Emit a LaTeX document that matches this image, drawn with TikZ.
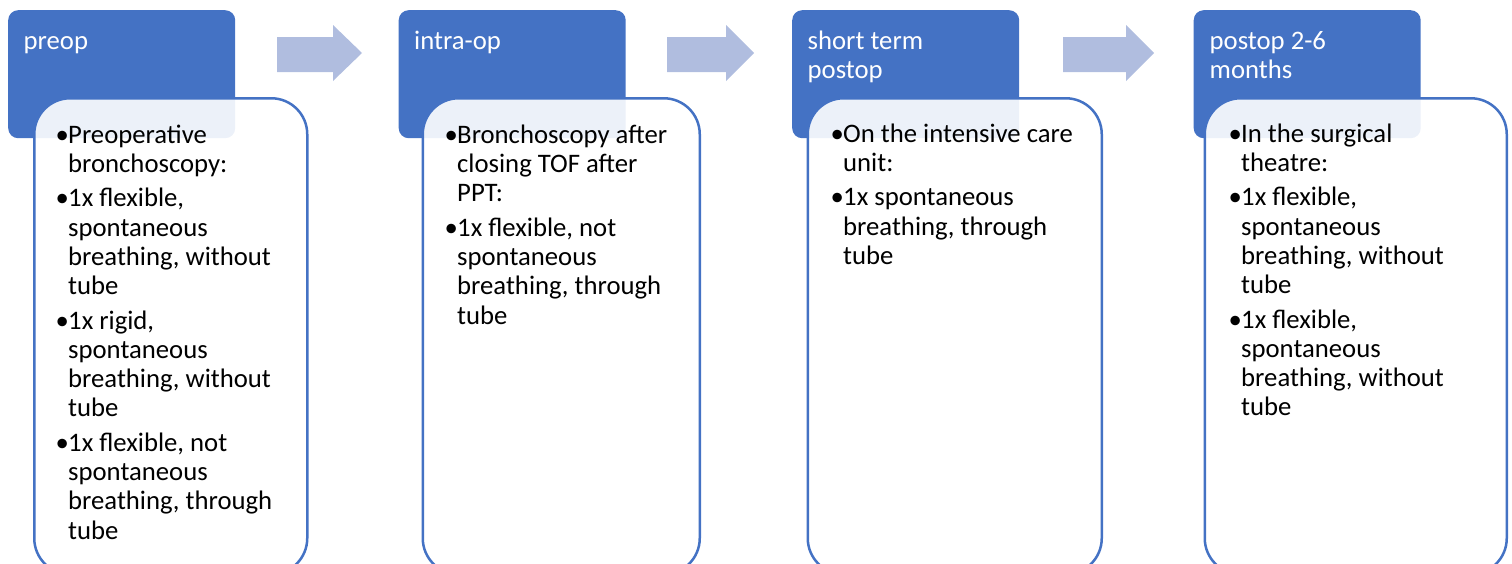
\documentclass[tikz,border=0pt]{standalone}
\usepackage{fontspec}
\setmainfont{Carlito}
\definecolor{acc}{HTML}{4472C4}
\definecolor{arr}{RGB}{176,189,223}
\newcommand{\mybul}{\makebox[12.5pt][l]{\textbullet}}
\newcommand{\myind}{\hspace*{12.5pt}}
\newcommand{\mystrut}{\rule{0pt}{21pt}}
\begin{document}
\begin{tikzpicture}[x=1pt,y=-1pt,
  hdr/.style={fill=acc, draw=none, rounded corners=10pt, minimum width=227pt, minimum height=128pt, anchor=north west, inner sep=0pt},
  bodybox/.style={draw=acc, line width=2.5pt, fill=white, fill opacity=0.9, draw opacity=1, rounded corners=36pt, anchor=north west, inner sep=0pt, minimum height=476pt},
  htext/.style={text=white, font=\fontsize{26.7}{29}\selectfont, align=left, anchor=north west, inner sep=0pt},
  btext/.style={text=black, font=\fontsize{26.7}{29.3}\selectfont, align=left, anchor=north west, inner sep=0pt},
  blockarrow/.style={fill=arr, draw=none}
]
\useasboundingbox (0,0) rectangle (1512,563);
\clip (0,0) rectangle (1512,563);

% headers
\node[hdr] (h1) at (8,10) {};
\node[hdr] (h2) at (398.5,10) {};
\node[hdr] (h3) at (792,10) {};
\node[hdr] (h4) at (1193.5,10) {};

\node[htext] (ht1) at (23.5,28.5) {\mystrut preop};
\node[htext] (ht2) at (414,28.5) {\mystrut intra-op};
\node[htext] (ht3) at (807.5,28.5) {\mystrut short term\\postop};
\node[htext] (ht4) at (1209.5,28.5) {\mystrut postop 2-6\\months};

% arrows
\fill[blockarrow] (277,37) -- (333,37) -- (333,25) -- (362,53) -- (333,81) -- (333,72) -- (277,72) -- cycle;
\fill[blockarrow] (667,37) -- (726,37) -- (726,25) -- (754,53) -- (726,81) -- (726,72) -- (667,72) -- cycle;
\fill[blockarrow] (1063,37) -- (1126,37) -- (1126,25) -- (1154,53) -- (1126,81) -- (1126,72) -- (1063,72) -- cycle;

% bodies
\node[bodybox, minimum width=273pt] (b1) at (33,97) {};
\node[bodybox, minimum width=277pt] (b2) at (421.5,97) {};
\node[bodybox, minimum width=294pt] (b3) at (806.5,97) {};
\node[bodybox, minimum width=302pt] (b4) at (1203.5,97) {};

\node[btext] (bt1) at (55.5,122) {\mystrut\mybul Preoperative\\
\myind bronchoscopy:\\[5pt]
\mybul 1x flexible,\\
\myind spontaneous\\
\myind breathing, without\\
\myind tube\\[5pt]
\mybul 1x rigid,\\
\myind spontaneous\\
\myind breathing, without\\
\myind tube\\[5pt]
\mybul 1x flexible, not\\
\myind spontaneous\\
\myind breathing, through\\
\myind tube};

\node[btext] (bt2) at (444.5,122) {\mystrut\mybul Bronchoscopy after\\
\myind closing TOF after\\
\myind PPT:\\[5pt]
\mybul 1x flexible, not\\
\myind spontaneous\\
\myind breathing, through\\
\myind tube};

\node[btext] (bt3) at (830.5,121) {\mystrut\mybul On the intensive care\\
\myind unit:\\[5pt]
\mybul 1x spontaneous\\
\myind breathing, through\\
\myind tube};

\node[btext] (bt4) at (1228.5,121) {\mystrut\mybul In the surgical\\
\myind theatre:\\[5pt]
\mybul 1x flexible,\\
\myind spontaneous\\
\myind breathing, without\\
\myind tube\\[5pt]
\mybul 1x flexible,\\
\myind spontaneous\\
\myind breathing, without\\
\myind tube};
\end{tikzpicture}
\end{document}
